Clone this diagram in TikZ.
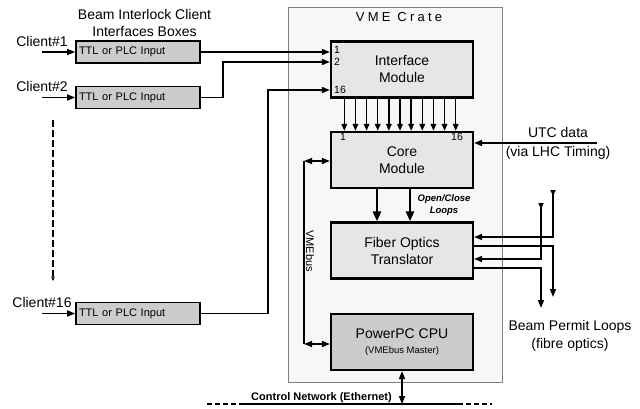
\documentclass[tikz,border=0pt]{standalone}
\usepackage{fontspec}
\setmainfont{Liberation Sans}
\usetikzlibrary{arrows.meta}
\definecolor{cratefill}{HTML}{F7F7F7}
\definecolor{crateline}{HTML}{7F7F7F}
\definecolor{boxlight}{HTML}{E6E6E6}
\definecolor{boxdark}{HTML}{CCCCCC}
\begin{document}
\begin{tikzpicture}[x=1pt,y=-1pt,
  box/.style={draw=black, line width=2.2pt, fill=boxlight, minimum width=142pt, minimum height=56pt, inner sep=0pt, align=center, font=\fontsize{14}{17}\selectfont},
  ttl/.style={draw=black, line width=1.6pt, fill=boxdark, minimum width=124pt, minimum height=22pt, inner sep=0pt, text width=118pt, align=left, font=\fontsize{11}{13}\selectfont},
  conn/.style={line width=1.5pt, -{Triangle[length=8pt,width=6pt]}},
  dconn/.style={line width=1.5pt, {Triangle[length=8pt,width=6pt]}-{Triangle[length=8pt,width=6pt]}},
  loopin/.style={line width=1.5pt, {Triangle[reversed,length=6pt,width=5pt]}-{Triangle[length=8pt,width=6pt]}},
  small/.style={line width=1.5pt, -{Triangle[length=7pt,width=5.5pt]}},
  fat/.style={line width=2.8pt, -{Triangle[length=10pt,width=8pt]}},
  plain/.style={line width=1.5pt},
  lbl/.style={font=\fontsize{14}{17}\selectfont, inner sep=0pt, align=center},
  num/.style={font=\fontsize{10.5}{12}\selectfont, inner sep=0pt},
]
\useasboundingbox (0,0) rectangle (640,409);

% VME crate
\node[draw=crateline, line width=0.9pt, fill=cratefill, minimum width=214pt, minimum height=375pt, inner sep=0pt] (crate) at (395,194.5) {};
\node[lbl, font={\fontsize{13}{15}\selectfont\addfontfeature{LetterSpace=25}}] (cratelbl) at (399,17) {VME Crate};

% modules
\node[box] (iface) at (402,69.5) {Interface\\Module};
\node[box] (core) at (402,160) {Core\\Module};
\node[box] (fo) at (402,250.5) {Fiber Optics\\Translator};
\node[box, fill=boxdark] (cpu) at (402,342) {PowerPC CPU\\[-2pt]{\fontsize{9.5}{11}\selectfont (VMEbus Master)}};

% client boxes
\node[lbl] (hdr) at (144.5,23) {Beam Interlock Client\\Interfaces Boxes};
\node[ttl] (t1) at (138,52) {TTL or PLC Input};
\node[ttl] (t2) at (138,97.5) {TTL or PLC Input};
\node[ttl] (t16) at (138,313.5) {TTL or PLC Input};
\node[lbl] (cl1) at (42,41) {Client\#1};
\node[lbl] (cl2) at (42,86) {Client\#2};
\node[lbl] (cl16) at (42,302) {Client\#16};

\coordinate (c1) at (42,52);
\coordinate (c2) at (42,97.5);
\coordinate (c16) at (42,313.5);
\draw[conn] (c1) -- (t1.west);
\draw[conn] (c2) -- (t2.west);
\draw[conn] (c16) -- (t16.west);

\coordinate (d1) at (53,120);
\coordinate (d2) at (53,281);
\draw[line width=1.1pt, dash pattern=on 7pt off 3pt, -{Stealth[length=4.5pt,width=4pt]}] (d1) -- (d2);

% inputs to interface module
\draw[conn] (t1.east) -- (t1.east -| iface.west);
\draw[conn] (t2.east) -- ++(22,0) |- ([yshift=7.5pt]iface.west);
\draw[conn] (t16.east) -- ++(67,0) |- ([yshift=-20.5pt]iface.west);
\node[num, anchor=west] (n1) at (334,50) {1};
\node[num, anchor=west] (n2) at (334,62) {2};
\node[num, anchor=west] (n16) at (334,90) {16};

% interface -> core
\foreach \i in {0,...,10}{
  \draw[small] ([xshift={344.3pt+11.14pt*\i-402pt}]iface.south) -- ([xshift={344.3pt+11.14pt*\i-402pt}]core.north);
}
\node[num] (m1) at (343,137) {1};
\node[num] (m16) at (457,137) {16};

% UTC
\coordinate (utc) at (597,143);
\draw[conn] (utc) -- (utc -| core.east);
\node[lbl, font=\fontsize{14}{19}\selectfont] (utclbl) at (558,143.5) {UTC data\\(via LHC Timing)};

% VMEbus
\coordinate (vb1) at (304,161);
\coordinate (vb2) at (304,344);
\draw[plain] (vb1) -- (vb2);
\draw[dconn] (vb1) -- (vb1 -| core.west);
\draw[dconn] (vb2) -- (vb2 -| cpu.west);
\node[font=\fontsize{11}{13}\selectfont, inner sep=0pt, rotate=-90] (vmebus) at (310,251) {VMEbus};

% core -> FO
\draw[fat] ([xshift=-25pt]core.south) -- ([xshift=-25pt]fo.north);
\draw[fat] ([xshift=8pt]core.south) -- ([xshift=8pt]fo.north);
\node[font=\fontsize{9.5}{11.5}\selectfont\bfseries\itshape, inner sep=0pt, align=center] (oc) at (444,205) {Open/Close\\Loops};

% beam permit loops
\coordinate (l1) at (553,190);
\coordinate (l2) at (553,297);
\coordinate (l3) at (541,203);
\coordinate (l4) at (541,308);
\draw[loopin] (l1) |- ([yshift=13.5pt]fo.east);
\draw[conn] ([yshift=4.5pt]fo.east) -| (l2);
\draw[loopin] (l3) |- ([yshift=-8.5pt]fo.east);
\draw[conn] ([yshift=-17.5pt]fo.east) -| (l4);
\node[lbl, font=\fontsize{14}{18}\selectfont] (bpl) at (570,336) {Beam Permit Loops\\(fibre optics)};

% control network
\coordinate (nL) at (207,404);
\coordinate (nA) at (240,404);
\coordinate (nB) at (458,404);
\coordinate (nR) at (492,404);
\draw[line width=1.6pt, dash pattern=on 5pt off 3pt] (nL) -- (nA);
\draw[line width=1.6pt] (nA) -- (nB);
\draw[line width=1.6pt, dash pattern=on 5pt off 3pt] (nB) -- (nR);
\draw[dconn] (cpu.south) -- (cpu.south |- nA);
\node[font=\fontsize{11}{13}\selectfont\bfseries, inner sep=0pt] (netlbl) at (321.5,397.5) {Control Network (Ethernet)};
\end{tikzpicture}
\end{document}
